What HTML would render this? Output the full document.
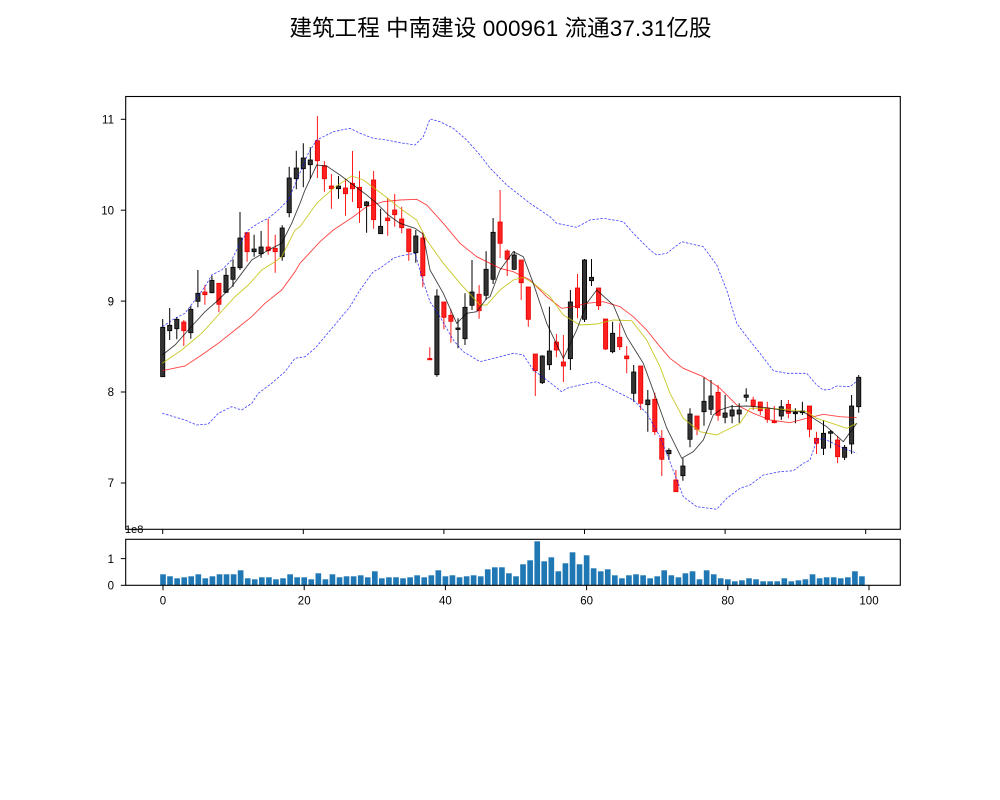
<!DOCTYPE html>
<html><head><meta charset="utf-8"><style>
html,body{margin:0;padding:0;background:#fff;}
svg{display:block;}
text{font-family:"Liberation Sans","Noto Sans CJK SC",sans-serif;fill:#000;}
</style></head><body>
<svg width="1000" height="800" viewBox="0 0 1000 800" xmlns="http://www.w3.org/2000/svg">
<rect x="0" y="0" width="1000" height="800" fill="#fff"/>
<text x="500.5" y="36" font-size="22.5" text-anchor="middle" textLength="422" lengthAdjust="spacing">建筑工程 中南建设 000961 流通37.31亿股</text>

<path fill="none" stroke="#000" stroke-width="1" d="M162.7 319V377M169.7 308V340M176.8 317V339.3M190.8 305.7V338.7M197.9 270V307.3M211.9 275.7V293.3M226 268V293M233 259.3V286.7M240 212V270M254.1 234.7V256.7M261.1 231V257.7M282.2 225.3V260.7M289.2 166.7V217.3M296.3 150.7V189.3M303.3 143.3V187.3M310.3 147.3V178.7M338.5 176V198.7M366.6 201V232.7M380.6 208.7V233.7M415.8 230V262.7M436.9 289.3V376.7M458 318.3V348.3M465 293.3V345M472 260V310M486.1 251.3V300M493.1 218V284M514.2 251V270M542.3 355.3V384M549.4 306.7V370M570.4 290V370M584.5 259V322M591.5 259V286M612.6 321.7V353.3M633.7 365V401.7M647.8 390V431.7M668.9 448.3V460M682.9 458.3V480.7M690 408.3V447.3M704 377.3V425.7M711 380V415M725.1 395V423.3M732.1 405V423.3M739.2 403.3V422.7M746.2 388.3V401.7M781.3 400V420M795.4 408.3V423.3M802.4 401.7V415M823.5 420V455M830.6 430V448.3M844.6 445V460M851.6 395V454M858.7 375V412.7"/>
<path fill="none" stroke="#ff1a1a" stroke-width="1" d="M183.8 320V346M204.9 285.3V304.7M218.9 283.3V312.3M247.1 232.7V261.7M268.2 219V254.7M275.2 234.7V272.7M317.4 116V178M324.4 161V191.7M331.4 174V208.7M345.5 178.7V215.7M352.5 151V202M359.5 171V222.7M373.6 171V228.7M387.7 198V235.7M394.7 194V226.7M401.7 206.7V233.3M408.8 229V260.7M422.8 231.7V287.3M429.8 347.3V359.8M443.9 302V329.3M450.9 309.3V342.7M479.1 285V318.7M500.1 190V258M507.2 249.3V276M521.2 260V300M528.3 287V326.7M535.3 354V396M556.4 334V357.3M563.4 335V382M577.5 274V318M598.6 288V310M605.6 319V350M619.7 323.3V350M626.7 346V373.3M640.7 366V410M654.8 392.7V435M661.8 430V476M675.9 470V491.7M697 416V435.3M718.1 385V420.7M753.2 396.7V410M760.3 402V415M767.3 401.7V422.7M774.3 406V423.3M788.4 400V418.3M809.5 406V437.3M816.5 431.7V454M837.6 436V463.3"/>

<g fill="#333" stroke="#000" stroke-width="0.8">
<rect x="160.6" y="327.3" width="4.2" height="49.4"/>
<rect x="167.6" y="325.3" width="4.2" height="5.4"/>
<rect x="174.7" y="319.3" width="4.2" height="9.4"/>
<rect x="188.7" y="309.3" width="4.2" height="23.4"/>
<rect x="195.8" y="293.3" width="4.2" height="8"/>
<rect x="209.8" y="280.3" width="4.2" height="12.4"/>
<rect x="223.9" y="275.3" width="4.2" height="17"/>
<rect x="230.9" y="267.3" width="4.2" height="12"/>
<rect x="237.9" y="238" width="4.2" height="29.7"/>
<rect x="252" y="249" width="4.2" height="2.7"/>
<rect x="259" y="247" width="4.2" height="6.7"/>
<rect x="280.1" y="228" width="4.2" height="28.7"/>
<rect x="287.1" y="178" width="4.2" height="34.7"/>
<rect x="294.2" y="168" width="4.2" height="10.7"/>
<rect x="301.2" y="158" width="4.2" height="10.7"/>
<rect x="308.2" y="160" width="4.2" height="4.7"/>
<rect x="336.4" y="186" width="4.2" height="2.7"/>
<rect x="364.5" y="202" width="4.2" height="3.7"/>
<rect x="378.5" y="226.3" width="4.2" height="7.4"/>
<rect x="413.7" y="236" width="4.2" height="16.7"/>
<rect x="434.8" y="296" width="4.2" height="78.7"/>
<rect x="455.9" y="328" width="4.2" height="1.5"/>
<rect x="462.9" y="307.3" width="4.2" height="31.4"/>
<rect x="469.9" y="292" width="4.2" height="13.3"/>
<rect x="484" y="269.3" width="4.2" height="26"/>
<rect x="491" y="232.3" width="4.2" height="47"/>
<rect x="512.1" y="255" width="4.2" height="14.3"/>
<rect x="540.2" y="356" width="4.2" height="26.7"/>
<rect x="547.3" y="351" width="4.2" height="13.7"/>
<rect x="568.3" y="302" width="4.2" height="56.7"/>
<rect x="582.4" y="260" width="4.2" height="59.3"/>
<rect x="589.4" y="277.3" width="4.2" height="3.4"/>
<rect x="610.5" y="333.3" width="4.2" height="18.4"/>
<rect x="631.6" y="372" width="4.2" height="21.3"/>
<rect x="645.7" y="400" width="4.2" height="4.7"/>
<rect x="666.8" y="450.3" width="4.2" height="3.4"/>
<rect x="680.8" y="466" width="4.2" height="9.7"/>
<rect x="687.9" y="414" width="4.2" height="25.3"/>
<rect x="701.9" y="401.3" width="4.2" height="10.4"/>
<rect x="708.9" y="396" width="4.2" height="13.3"/>
<rect x="723" y="413" width="4.2" height="4.3"/>
<rect x="730" y="410" width="4.2" height="6"/>
<rect x="737.1" y="410" width="4.2" height="4"/>
<rect x="744.1" y="395" width="4.2" height="2.3"/>
<rect x="779.2" y="406.7" width="4.2" height="9.3"/>
<rect x="793.3" y="412.3" width="4.2" height="1.4"/>
<rect x="800.3" y="411" width="4.2" height="1.7"/>
<rect x="821.4" y="433.3" width="4.2" height="15"/>
<rect x="828.5" y="431.7" width="4.2" height="1.6"/>
<rect x="842.5" y="447.3" width="4.2" height="10"/>
<rect x="849.5" y="406" width="4.2" height="38"/>
<rect x="856.6" y="377.3" width="4.2" height="29.4"/>
</g>

<g fill="#ff2020" stroke="#e60000" stroke-width="0.8">
<rect x="181.7" y="322" width="4.2" height="8.7"/>
<rect x="202.8" y="292" width="4.2" height="2.7"/>
<rect x="216.8" y="283.3" width="4.2" height="21"/>
<rect x="245" y="232.7" width="4.2" height="19"/>
<rect x="266.1" y="247" width="4.2" height="3.7"/>
<rect x="273.1" y="248.3" width="4.2" height="3.4"/>
<rect x="315.3" y="140.7" width="4.2" height="20"/>
<rect x="322.3" y="165.7" width="4.2" height="13"/>
<rect x="329.3" y="186" width="4.2" height="2.7"/>
<rect x="343.4" y="188" width="4.2" height="5.7"/>
<rect x="350.4" y="183.3" width="4.2" height="5.4"/>
<rect x="357.4" y="187.3" width="4.2" height="20.4"/>
<rect x="371.5" y="180" width="4.2" height="39.7"/>
<rect x="385.6" y="218" width="4.2" height="2.7"/>
<rect x="392.6" y="210" width="4.2" height="4.7"/>
<rect x="399.6" y="219" width="4.2" height="8.7"/>
<rect x="406.7" y="229" width="4.2" height="22.7"/>
<rect x="420.7" y="238" width="4.2" height="37.7"/>
<rect x="427.7" y="358.5" width="4.2" height="1.3"/>
<rect x="441.8" y="302" width="4.2" height="15.3"/>
<rect x="448.8" y="315.3" width="4.2" height="6"/>
<rect x="477" y="294.3" width="4.2" height="16.4"/>
<rect x="498" y="222" width="4.2" height="21.3"/>
<rect x="505.1" y="251" width="4.2" height="8.3"/>
<rect x="519.1" y="260" width="4.2" height="22.7"/>
<rect x="526.2" y="287" width="4.2" height="32.3"/>
<rect x="533.2" y="354" width="4.2" height="16.7"/>
<rect x="554.3" y="342" width="4.2" height="8"/>
<rect x="561.3" y="362" width="4.2" height="4"/>
<rect x="575.4" y="288" width="4.2" height="19.7"/>
<rect x="596.5" y="288" width="4.2" height="17.7"/>
<rect x="603.5" y="319" width="4.2" height="30"/>
<rect x="617.6" y="337.3" width="4.2" height="9.4"/>
<rect x="624.6" y="356" width="4.2" height="2.7"/>
<rect x="638.6" y="366" width="4.2" height="37.3"/>
<rect x="652.7" y="399.3" width="4.2" height="32.4"/>
<rect x="659.7" y="438.3" width="4.2" height="21"/>
<rect x="673.8" y="480" width="4.2" height="11.7"/>
<rect x="694.9" y="416" width="4.2" height="13.3"/>
<rect x="716" y="392.3" width="4.2" height="23"/>
<rect x="751.1" y="400" width="4.2" height="6"/>
<rect x="758.2" y="402" width="4.2" height="8.7"/>
<rect x="765.2" y="408" width="4.2" height="11.3"/>
<rect x="772.2" y="421" width="4.2" height="1.7"/>
<rect x="786.3" y="404.3" width="4.2" height="9"/>
<rect x="807.4" y="406" width="4.2" height="23.3"/>
<rect x="814.4" y="438.3" width="4.2" height="5"/>
<rect x="835.5" y="440" width="4.2" height="16.7"/>
</g>

<g fill="none" stroke="#0000ff" stroke-width="0.8" stroke-opacity="0.75" stroke-dasharray="2.5,1.5">
<polyline points="162.3,326.7 175,318.3 185,313.3 195,300 205,286.7 211.7,275 221.7,270 231.7,260 238.3,246.7 248.3,230 258.3,223.3 268.3,218.3 278.3,210 288.3,200 298.3,176.7 308.3,153.3 316.7,140 333.3,131.7 350,128.3 360,133.3 373.3,138.3 386.7,140 400,142.7 415,145 423.3,136.7 430,119 440,121.7 453.3,128.3 466.7,140 480,155 490,168 506.7,185 530,203.3 550,216.7 556.7,223.3 576.7,227.3 590,220 603.3,218.3 623.3,221.7 633.3,233.3 650,250 656.7,255 666.7,253.3 681.7,241.7 703.3,246.7 716.7,265 726.7,290 736.7,323.3 746.7,336.7 760,353.3 773.3,370.7 786.7,373.3 806.7,373.3 816.7,385 823.3,390 830,389.3 836.7,386 850,386.7 858.3,380"/>
<polyline points="162.3,413.3 185,420 196.7,425 208.3,424 218.3,413.3 231.7,406.7 241.7,410 251.7,403.3 258.3,393.3 271.7,383.3 285,371.7 295,358.3 305,356.7 315,348.3 333.3,326.7 350,306.7 360,290 373.3,271.7 380,268.3 393.3,258.3 400,256 415,253.3 423.3,281.7 430,301.7 440,316.7 453.3,340 463.3,351.7 480,361.7 500,356.7 513.3,353.3 523.3,355 533.3,370 546.7,380 561.7,391.7 566.7,388.3 580,385 596.7,381.7 613.3,390 633.3,400 646.7,413.3 660,436.7 670,462 683.3,496.7 696.7,506.7 716.7,509.3 726.7,498.3 740,488.3 750,485 763.3,475 780,471.7 793.3,470.7 803.3,463.3 810,460 816.7,440 823.3,438.3 833.3,443.3 843.3,448.3 856.7,453.3"/>
</g>

<polyline fill="none" stroke="#ff0000" stroke-width="0.9" stroke-opacity="0.75" points="162.3,370.7 185,366 201.7,355 218.3,343.3 235,330 251.7,316.7 265,303.3 281.7,290 295,271.7 300,263.3 320,241.7 333.3,230 353.3,216.7 366.7,206.7 383.3,201.7 400,200 416.7,199.3 426.7,205 443.3,223.3 460,243.3 476.7,256.7 490,263.3 500,268.3 513.3,271.7 530,280 546.7,296.7 561.7,308.3 573.3,306.7 586.7,303.3 603.3,301.7 620,306.7 633.3,316.7 646.7,330 660,346.7 670,358.3 683.3,368.3 703.3,376.7 720,388.3 736.7,405 753.3,413.3 770,420 790,422.7 806.7,418.3 823.3,414.3 840,416.7 856.7,417.7"/>
<polyline fill="none" stroke="#bfbf00" stroke-width="0.9" stroke-opacity="0.85" points="162.3,363.3 181.7,350 201.7,333.3 218.3,315 235,296.7 248.3,285 261.7,270 275,261.7 281.7,256.7 295,230 300,226.7 316.7,203.3 333.3,188.3 351.7,176 363.3,180 376.7,190 390,200 400,208.3 416.7,220 426.7,240 443.3,263.3 460,283.3 480,305 486.7,305 500,290 513.3,280 523.3,277.3 533.3,283.3 550,296.7 563.3,315 580,325 596.7,324 613.3,320 631.7,320.7 646.7,340 660,366.7 670,393.3 683.3,418.3 700,431.7 716.7,435 726.7,430 740,423.3 750,408.3 770,408.3 790,410 806.7,411.7 816.7,418.3 830,422.7 846.7,428.3 856.7,423.3"/>
<polyline fill="none" stroke="#000" stroke-width="0.9" stroke-opacity="0.75" points="162.3,355 175,345 188.3,330 205,311.7 218.3,300 231.7,286.7 241.7,273.3 251.7,260 261.7,254 271.7,248.3 281.7,243.3 291.7,223.3 300,203.3 305,190 316.7,165 326.7,166 340,175 353.3,185 366.7,195 376.7,203.3 388.3,215 400,223.3 415,228.3 423,234 430,270 443.3,293.3 456.7,323.3 466.7,313.3 476.7,311.7 486.7,298.3 490,296.7 500,270 513.3,251.7 523.3,256.7 533.3,283.3 546.7,323.3 563.3,358.3 576.7,330 586.7,303.3 596.7,290 613.3,305 626.7,336.7 643.3,363.3 656.7,400 666.7,428 681.7,458.3 693.3,451.7 703.3,440 713.3,415 720,410 730,406.7 746.7,406 763.3,407.3 776.7,409.3 790,411.7 803.3,411.7 813.3,418.3 826.7,426.7 843.3,441.7 856.7,423.3"/>

<rect x="125.7" y="96.5" width="774.6" height="432.8" fill="none" stroke="#000" stroke-width="1.1"/>
<g stroke="#000" stroke-width="1">
<line x1="120.8" y1="119.3" x2="125.7" y2="119.3"/>
<line x1="120.8" y1="210.2" x2="125.7" y2="210.2"/>
<line x1="120.8" y1="301.1" x2="125.7" y2="301.1"/>
<line x1="120.8" y1="392" x2="125.7" y2="392"/>
<line x1="120.8" y1="483" x2="125.7" y2="483"/>
<line x1="162.7" y1="529.3" x2="162.7" y2="534"/>
<line x1="303.3" y1="529.3" x2="303.3" y2="534"/>
<line x1="443.9" y1="529.3" x2="443.9" y2="534"/>
<line x1="584.5" y1="529.3" x2="584.5" y2="534"/>
<line x1="725.1" y1="529.3" x2="725.1" y2="534"/>
<line x1="865.7" y1="529.3" x2="865.7" y2="534"/>
</g>
<g font-size="11.5" text-anchor="end">
<text x="114" y="123.5">11</text>
<text x="114" y="214.4">10</text>
<text x="114" y="305.3">9</text>
<text x="114" y="396.2">8</text>
<text x="114" y="487.2">7</text>
</g>

<g fill="#1f77b4">
<rect x="160.2" y="574.3" width="5.65" height="11"/>
<rect x="167.2" y="576.3" width="5.65" height="9"/>
<rect x="174.3" y="578.3" width="5.65" height="7"/>
<rect x="181.4" y="577.3" width="5.65" height="8"/>
<rect x="188.4" y="576.3" width="5.65" height="9"/>
<rect x="195.5" y="574.3" width="5.65" height="11"/>
<rect x="202.5" y="578.3" width="5.65" height="7"/>
<rect x="209.6" y="576.3" width="5.65" height="9"/>
<rect x="216.7" y="574.3" width="5.65" height="11"/>
<rect x="223.7" y="574.3" width="5.65" height="11"/>
<rect x="230.8" y="574.3" width="5.65" height="11"/>
<rect x="237.8" y="570.3" width="5.65" height="15"/>
<rect x="244.9" y="578.3" width="5.65" height="7"/>
<rect x="251.9" y="579.3" width="5.65" height="6"/>
<rect x="259" y="577.3" width="5.65" height="8"/>
<rect x="266.1" y="577.3" width="5.65" height="8"/>
<rect x="273.1" y="579.3" width="5.65" height="6"/>
<rect x="280.2" y="578.3" width="5.65" height="7"/>
<rect x="287.3" y="574.3" width="5.65" height="11"/>
<rect x="294.3" y="577.3" width="5.65" height="8"/>
<rect x="301.4" y="577.3" width="5.65" height="8"/>
<rect x="308.4" y="579.3" width="5.65" height="6"/>
<rect x="315.5" y="573.3" width="5.65" height="12"/>
<rect x="322.6" y="579.3" width="5.65" height="6"/>
<rect x="329.6" y="574.3" width="5.65" height="11"/>
<rect x="336.7" y="577.3" width="5.65" height="8"/>
<rect x="343.7" y="576.3" width="5.65" height="9"/>
<rect x="350.8" y="576.3" width="5.65" height="9"/>
<rect x="357.9" y="575.3" width="5.65" height="10"/>
<rect x="364.9" y="577.3" width="5.65" height="8"/>
<rect x="372" y="571.3" width="5.65" height="14"/>
<rect x="379" y="578.3" width="5.65" height="7"/>
<rect x="386.1" y="577.3" width="5.65" height="8"/>
<rect x="393.2" y="577.3" width="5.65" height="8"/>
<rect x="400.2" y="578.3" width="5.65" height="7"/>
<rect x="407.3" y="577.3" width="5.65" height="8"/>
<rect x="414.3" y="575.3" width="5.65" height="10"/>
<rect x="421.4" y="577.3" width="5.65" height="8"/>
<rect x="428.5" y="575.3" width="5.65" height="10"/>
<rect x="435.5" y="570.3" width="5.65" height="15"/>
<rect x="442.6" y="576.3" width="5.65" height="9"/>
<rect x="449.6" y="575.3" width="5.65" height="10"/>
<rect x="456.7" y="577.3" width="5.65" height="8"/>
<rect x="463.8" y="576.3" width="5.65" height="9"/>
<rect x="470.8" y="575.3" width="5.65" height="10"/>
<rect x="477.9" y="576.3" width="5.65" height="9"/>
<rect x="484.9" y="569.3" width="5.65" height="16"/>
<rect x="492" y="567.3" width="5.65" height="18"/>
<rect x="499.1" y="567.3" width="5.65" height="18"/>
<rect x="506.1" y="573.3" width="5.65" height="12"/>
<rect x="513.2" y="576.3" width="5.65" height="9"/>
<rect x="520.2" y="564.3" width="5.65" height="21"/>
<rect x="527.3" y="560.3" width="5.65" height="25"/>
<rect x="534.4" y="541.3" width="5.65" height="44"/>
<rect x="541.4" y="561.3" width="5.65" height="24"/>
<rect x="548.5" y="557.3" width="5.65" height="28"/>
<rect x="555.5" y="571.3" width="5.65" height="14"/>
<rect x="562.6" y="563.3" width="5.65" height="22"/>
<rect x="569.7" y="552.3" width="5.65" height="33"/>
<rect x="576.7" y="564.3" width="5.65" height="21"/>
<rect x="583.8" y="555.3" width="5.65" height="30"/>
<rect x="590.8" y="568.3" width="5.65" height="17"/>
<rect x="597.9" y="571.3" width="5.65" height="14"/>
<rect x="604.9" y="569.3" width="5.65" height="16"/>
<rect x="612" y="575.3" width="5.65" height="10"/>
<rect x="619.1" y="578.3" width="5.65" height="7"/>
<rect x="626.1" y="575.3" width="5.65" height="10"/>
<rect x="633.2" y="574.3" width="5.65" height="11"/>
<rect x="640.3" y="575.3" width="5.65" height="10"/>
<rect x="647.3" y="578.3" width="5.65" height="7"/>
<rect x="654.4" y="576.3" width="5.65" height="9"/>
<rect x="661.4" y="570.3" width="5.65" height="15"/>
<rect x="668.5" y="575.3" width="5.65" height="10"/>
<rect x="675.6" y="577.3" width="5.65" height="8"/>
<rect x="682.6" y="573.3" width="5.65" height="12"/>
<rect x="689.7" y="571.3" width="5.65" height="14"/>
<rect x="696.7" y="579.3" width="5.65" height="6"/>
<rect x="703.8" y="570.3" width="5.65" height="15"/>
<rect x="710.9" y="574.3" width="5.65" height="11"/>
<rect x="717.9" y="578.3" width="5.65" height="7"/>
<rect x="725" y="579.3" width="5.65" height="6"/>
<rect x="732" y="581.3" width="5.65" height="4"/>
<rect x="739.1" y="580.3" width="5.65" height="5"/>
<rect x="746.2" y="578.3" width="5.65" height="7"/>
<rect x="753.2" y="579.3" width="5.65" height="6"/>
<rect x="760.3" y="581.3" width="5.65" height="4"/>
<rect x="767.3" y="581.3" width="5.65" height="4"/>
<rect x="774.4" y="581.3" width="5.65" height="4"/>
<rect x="781.5" y="578.3" width="5.65" height="7"/>
<rect x="788.5" y="581.3" width="5.65" height="4"/>
<rect x="795.6" y="580.3" width="5.65" height="5"/>
<rect x="802.6" y="579.3" width="5.65" height="6"/>
<rect x="809.7" y="574.3" width="5.65" height="11"/>
<rect x="816.8" y="578.3" width="5.65" height="7"/>
<rect x="823.8" y="577.3" width="5.65" height="8"/>
<rect x="830.9" y="577.3" width="5.65" height="8"/>
<rect x="837.9" y="578.3" width="5.65" height="7"/>
<rect x="845" y="577.3" width="5.65" height="8"/>
<rect x="852.1" y="571.3" width="5.65" height="14"/>
<rect x="859.1" y="576.3" width="5.65" height="9"/>
</g>
<rect x="125.7" y="539.3" width="774.6" height="46" fill="none" stroke="#000" stroke-width="1.1"/>
<g stroke="#000" stroke-width="1">
<line x1="120.8" y1="585.3" x2="125.7" y2="585.3"/>
<line x1="120.8" y1="558.6" x2="125.7" y2="558.6"/>
<line x1="163" y1="585.3" x2="163" y2="590.2"/>
<line x1="304.2" y1="585.3" x2="304.2" y2="590.2"/>
<line x1="445.4" y1="585.3" x2="445.4" y2="590.2"/>
<line x1="586.6" y1="585.3" x2="586.6" y2="590.2"/>
<line x1="727.8" y1="585.3" x2="727.8" y2="590.2"/>
<line x1="869" y1="585.3" x2="869" y2="590.2"/>
</g>
<g font-size="11.5" text-anchor="end">
<text x="114" y="562.8">1</text>
<text x="114" y="589.5">0</text>
</g>
<text x="125" y="533" font-size="11">1e8</text>
<g font-size="11.5" text-anchor="middle">
<text x="163" y="604.5">0</text>
<text x="304.2" y="604.5">20</text>
<text x="445.4" y="604.5">40</text>
<text x="586.6" y="604.5">60</text>
<text x="727.8" y="604.5">80</text>
<text x="869" y="604.5">100</text>
</g>
</svg>
</body></html>
